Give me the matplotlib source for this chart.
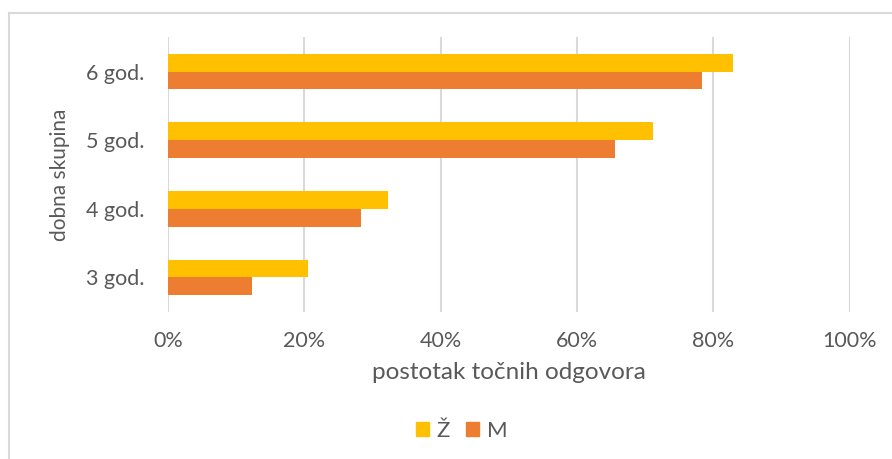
import matplotlib.pyplot as plt
import numpy as np
from matplotlib.patches import Patch
from matplotlib.lines import Line2D

plt.rcParams['font.family'] = ['Lato', 'DejaVu Sans']

categories = ['3 god.', '4 god.', '5 god.', '6 god.']
zene = [20.5, 32.3, 71.2, 82.9]
muski = [12.3, 28.3, 65.6, 78.4]
xticks = [0, 20, 40, 60, 80, 100]

c_z = '#FFC000'
c_m = '#ED7D31'
grid_c = '#D9D9D9'
text_c = '#595959'

fig = plt.figure(figsize=(8.92, 4.59), dpi=100)
ax = fig.add_axes([168 / 892, 1 - 311.7 / 459, 681.5 / 892, 274.4 / 459])

y = np.arange(len(categories))
h = 0.26
ax.barh(y + h / 2, zene, height=h, color=c_z, zorder=3)
ax.barh(y - h / 2, muski, height=h, color=c_m, zorder=3)

ax.set_xlim(0, 100)
ax.set_ylim(-0.5, len(categories) - 0.5)
ax.set_xticks(xticks)
ax.set_xticklabels([f'{t}%' for t in xticks])
ax.set_yticks(y)
ax.set_yticklabels(categories)
ax.tick_params(axis='both', length=0, labelsize=15.5, labelcolor=text_c)
ax.tick_params(axis='x', pad=14)
ax.tick_params(axis='y', pad=17)

ax.grid(axis='x', color=grid_c, linewidth=1.5, zorder=0)
ax.set_axisbelow(True)
for s in ax.spines.values():
    s.set_visible(False)

ax.set_xlabel('postotak točnih odgovora', fontsize=17.5, color=text_c)
ax.xaxis.set_label_coords(0.5, -0.22)
ax.xaxis.label.set_verticalalignment('center')
ax.set_ylabel('dobna skupina', fontsize=15, color=text_c)
ax.yaxis.set_label_coords(-0.158, 0.5)
ax.yaxis.label.set_verticalalignment('center')

handles = [Patch(color=c_z, label='Ž'), Patch(color=c_m, label='M')]
leg = fig.legend(handles=handles, loc='center', bbox_to_anchor=(461.5 / 892, 1 - 431 / 459),
                 ncol=2, frameon=False, fontsize=16, handlelength=0.6, handleheight=0.6,
                 handletextpad=0.35, columnspacing=0.7)
for t in leg.get_texts():
    t.set_color(text_c)

# outer chart border (only left and top visible in the crop)
fig.add_artist(Line2D([9 / 892, 9 / 892], [0, 1 - 13 / 459], color=grid_c, linewidth=1.5,
                      transform=fig.transFigure))
fig.add_artist(Line2D([9 / 892, 1], [1 - 13 / 459, 1 - 13 / 459], color=grid_c, linewidth=1.5,
                      transform=fig.transFigure))

fig.savefig('out.png', dpi=100, facecolor='white')
